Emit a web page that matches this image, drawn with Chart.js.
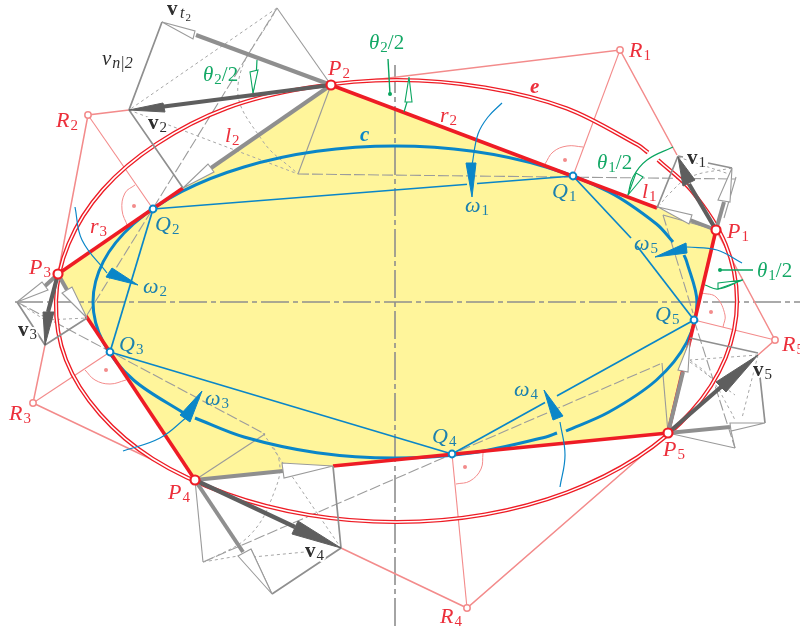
<!DOCTYPE html>
<html><head><meta charset="utf-8">
<script src="https://cdn.jsdelivr.net/npm/chart.js@4"></script>
<style>html,body{margin:0;padding:0;background:#fff}canvas{display:block}</style>
</head><body><canvas id="c" width="800" height="630"></canvas>
<script>
// ---- values (x, y in picture units) ----
const P1=[716,230],P2=[331,85],P3=[58,274],P4=[195,480],P5=[668,433];
const Q1=[573,176],Q2=[153,209],Q3=[110,352],Q4=[452,454],Q5=[694,320];
const R1=[620,50],R2=[88,115],R3=[33,403],R4=[467,608],R5=[775,340];
const polygonP=[P1,P2,P3,P4,P5,P1];
const axisH=[[15,302],[800,302]];
const axisV=[[395,65],[395,628]];
const ellipseA=[[658,160],[691.4,190.5],[725.4,243.8],[737,301],[725.4,358.2],[691.4,411.5],[637.4,457.3],[567,492.4],[485,514.5],[397,522],[309,515],[227,494],[153,459],[100,414],[66,360],[56,301],[68.6,243.8],[102.6,190],[156.6,144],[227,108],[309,87.5],[397,80],[485,87.5],[567,108.5],[637.4,144.7],[648,152.5]];
const curveC1=[[684,255],[686.7,261.6],[697,302],[686.7,342.4],[656.5,380],[608.5,412.3],[566,431]];
const curveC2=[[557,433],[546,437],[473,452.7],[395,458],[316.8,452.7],[244,437],[195,418]];
const curveC3=[[186,414.5],[133.5,380],[103.3,342.4],[93,302],[103.3,261.6],[133.5,224],[181.5,191.7],[244,167],[316.8,151.3],[395,146],[473,151.3],[546,167],[608.5,191.7],[656.5,224],[673,242]];
const chordsQ=[[Q1,Q2],[Q2,Q3],[Q3,Q4],[Q4,Q5]];
const chordQ5a=[Q5,[637,246]],chordQ5b=[[631,238],Q1];
const redEdges=[[P2,[657,208]],[P3,[183,188]],[[86,316],P4],[[333,466],P5],[P5,P1]];
const crossingNotches=[[[467,184.3],[477,183.5]],[[545,402.5],[557,396]]];
const pinkFine=[[R1,Q1],[R2,Q2],[R3,Q3],[R4,Q4],[R5,Q5]];
const pinkOuter=[[P2,R1,[677,155]],[[129,110],R2,P3],[[45,345],R3,P4],[[341,548],R4,P5],[[758,355],R5,P1]];
const rightArcs=[
 [[545,164],[553,152],[567,146],[583,147]],
 [[135,185],[125,193],[122,210],[128,227]],
 [[85,370],[95,380],[110,384],[126,380]],
 [[483,453],[481,469],[470,481],[456,484]],
 [[702,293],[716,297],[725,315],[723,327]]];
const rightDots=[[565,160],[134,206],[106,370],[465,467],[711,312]];
// velocity figures
const thickGray=[[P2,[196,35]],[P2,[211,168]],[P1,[690,220]],[P1,[724,202]],[P3,[45,286]],[P3,[67,290]],[P4,[283,471]],[P4,[243,552]],[P5,[683,372]],[P5,[730,427]]];
const whiteHeads=[
 [[162,22],[195,31],[193,39]],[[183,188],[208,164],[214,172]],
 [[658,207],[692,215],[689,224]],[[732,168],[718,200],[730,202]],
 [[17,302],[42,282],[48,290]],[[87,318],[62,293],[72,287]],
 [[333,466],[282,463],[284,478]],[[272,594],[238,556],[251,549]],
 [[690,340],[678,370],[688,372]],[[765,423],[730,423],[731,431]]];
const darkShafts=[[P2,[160,107]],[P1,[689,184]],[P3,[48,312]],[P4,[295,527]],[P5,[721,387]]];
const darkHeads=[
 [[129,110],[163,103],[165,112]],[[678,157],[695,180],[683,186]],
 [[45,345],[43,312],[54,312]],[[341,548],[298,521],[292,534]],
 [[758,355],[716,382],[726,392]]];
const grayBox=[
 [[162,22],[129,110],[183,188]],[[678,156],[657,208]],[[678,156],[683,157]],[[708,163],[732,168]],
 [[17,302],[45,345],[87,318]],[[333,466],[341,548],[272,594]],
 [[690,338],[758,353]],[[760,377],[765,423]]];
const grayThin=[
 [P2,[277,8]],[[298,174],P2],[P4,[265,434]],[P4,[203,562]],[[272,594],[251,549]],
 [P5,[662,363]],[P5,[735,448]],[[735,448],[731,431]],[[736,177],[724,218]],[[663,215],P1]];
const dashLong=[
 [[277,8],[87,315]],[[298,174],[735,179]],[[17,302],[265,434]],[[203,562],[660,364]],
 [[663,215],[693,313]],[Q5,[735,448]]];
const dashShort=[
 [[277,8],[129,110]],[[129,110],[298,174]],[[17,302],[45,320]],[[45,320],[87,318]],
 [[272,447],[341,548]],[[203,562],[238,556]],[[253,557],[305,552]],[[758,355],[690,360]],
 [[758,355],[742,418]],[[690,362],[735,395]],[[678,157],[732,175]]];
const dashCurves=[
 [[277,8],[238,85],[262,140],[298,174]],
 [[263,433],[279,460],[275,490],[250,535],[205,562]],
 [[732,168],[690,177],[668,195],[660,205]],
 [[690,360],[710,377],[730,410],[735,420]]];
// rotation arcs
const omegaArcs=[
 [[502,103],[488,117],[478,134],[472,165]],
 [[75,207],[82,240],[107,273]],
 [[123,451],[160,438],[187,417]],
 [[560,487],[565,455],[560,422]],
 [[742,263],[717,250],[687,247]]];
const omegaHeads=[
 [[472,197],[466,163],[476,163]],
 [[138,285],[112,268],[106,277]],
 [[202,391],[180,415],[190,422]],
 [[544,390],[563,416],[553,420]],
 [[655,257],[686,243],[687,253]]];
// half-angle marks
const thetaLines=[[[388,59],[390,94]],[[720,270],[753,270]]];
const thetaDots=[[390,94],[720,270]];
const thetaArcs=[
 [[257,60],[256,75],[253,93]],
 [[404,112],[407,102]],
 [[673,147],[647,160],[633,177],[628,195]],
 [[705,285],[718,289],[742,280]]];
const thetaHeads=[
 [[253,93],[250,72],[258,70]],
 [[409,77],[405,102],[412,102]],
 [[628,195],[636,173],[643,177]],
 [[743,280],[718,283],[718,289]]];
// labels: base, subscript, x, y
const redLabels=[["P","1",727,238],["P","2",328,75],["P","3",29,274],["P","4",168,499],["P","5",663,456],
 ["R","1",629,57],["R","2",56,127],["R","3",9,420],["R","4",440,623],["R","5",782,351],
 ["r","2",440,122],["r","3",90,233],["l","1",642,198],["l","2",225,142]];
const blueLabels=[["Q","1",552,198],["Q","2",155,231],["Q","3",119,351],["Q","4",432,443],["Q","5",655,321],
 ["ω","1",465,212],["ω","2",143,293],["ω","3",205,405],["ω","4",514,396],["ω","5",634,250]];
const greenLabels=[["θ","2/2",203,81],["θ","2/2",369,49],["θ","1/2",597,169],["θ","1/2",757,277]];
const boldLabels=[["v","1",687,164],["v","2",148,129],["v","3",18,336],["v","4",305,557],["v","5",753,376]];

const RED='#ee1c25',PINK='#f38b8b',BLUE='#0a86c8',GREEN='#0aa560',YEL='#fff59b',GT='#9a9a9a',GM='#8f8f8f',DK='#5e5e5e';
const datasets=[];
const xy=p=>({x:p[0],y:p[1]});
function line(pts,color,w,dash,tension){datasets.push({data:pts.map(xy),showLine:true,borderColor:color,borderWidth:w,borderDash:dash||[],tension:tension||0,pointRadius:0,fill:false,borderCapStyle:'butt',borderJoinStyle:'miter'});}
function poly(pts,fill,stroke,w){datasets.push({data:[...pts,pts[0]].map(xy),showLine:true,borderColor:stroke,borderWidth:w,tension:0,pointRadius:0,fill:'shape',backgroundColor:fill,borderJoinStyle:'miter'});}
function dots(pts,fill,stroke,bw,r){datasets.push({data:pts.map(xy),showLine:false,pointRadius:r,pointBackgroundColor:fill,pointBorderColor:stroke,pointBorderWidth:bw});}

poly(polygonP,YEL,YEL,0);
line(axisH,'#8e8e8e',1.6,[28,4,5,4]);
line(axisV,'#8e8e8e',1.6,[28,4,5,4]);
pinkFine.forEach(s=>line(s,PINK,1.1));
pinkOuter.forEach(s=>line(s,PINK,1.5));
rightArcs.forEach(s=>line(s,PINK,1,[],0.4));
dots(rightDots,PINK,PINK,0,2);
dashLong.forEach(s=>line(s,'#9c9c9c',1.1,[11,3]));
dashShort.forEach(s=>line(s,'#a6a6a6',1,[3,3]));
dashCurves.forEach(s=>line(s,'#a6a6a6',1,[3,3],0.4));
grayThin.forEach(s=>line(s,GT,1.1));
line(ellipseA,RED,4.2,[],0.33);
line(ellipseA,'#ffffff',1.5,[],0.33);
[curveC1,curveC2,curveC3].forEach(s=>line(s,BLUE,3,[],0.33));
chordsQ.forEach(s=>line(s,BLUE,1.7));
line(chordQ5a,BLUE,1.7);line(chordQ5b,BLUE,1.7);
redEdges.forEach(s=>line(s,RED,3.6));
crossingNotches.forEach(s=>line(s,YEL,4.4));
grayBox.forEach(s=>line(s,GM,1.7));
thickGray.forEach(s=>line(s,GM,4));
whiteHeads.forEach(s=>poly(s,'#ffffff',GT,1.1));
darkShafts.forEach(s=>line(s,DK,4.2));
darkHeads.forEach(s=>poly(s,DK,DK,1));
omegaArcs.forEach(s=>line(s,BLUE,1.2,[],0.4));
omegaHeads.forEach(s=>poly(s,BLUE,BLUE,1));
thetaLines.forEach(s=>line(s,GREEN,1.4));
dots(thetaDots,GREEN,GREEN,0,2);
thetaArcs.forEach(s=>line(s,GREEN,1.2,[],0.4));
thetaHeads.forEach(s=>poly(s,'#ffffff',GREEN,1.1));
dots([P1,P2,P3,P4,P5],'#ffffff',RED,2.2,4.5);
dots([Q1,Q2,Q3,Q4,Q5],'#ffffff',BLUE,2,3.4);
dots([R1,R2,R3,R4,R5],'#ffffff',PINK,1.5,3.2);
datasets.forEach((d,i)=>d.order=datasets.length-i);

const SERIF='"Liberation Serif","DejaVu Serif",serif';
const textPlugin={id:'texts',afterDatasetsDraw(ch){
 const c=ch.ctx,X=ch.scales.x,Y=ch.scales.y;
 const sub=(base,s,x,y,col,bf,sf,halo)=>{
  const px=X.getPixelForValue(x),py=Y.getPixelForValue(y);
  c.save();c.textBaseline='alphabetic';c.fillStyle=col;c.lineJoin='round';
  c.font=bf;const w=c.measureText(base).width;
  if(halo){c.strokeStyle='#fff';c.lineWidth=4;c.strokeText(base,px,py);}
  c.fillText(base,px,py);
  c.font=sf;
  if(halo){c.strokeStyle='#fff';c.lineWidth=4;c.strokeText(s,px+w+1,py+3);}
  c.fillText(s,px+w+1,py+3);c.restore();};
 redLabels.forEach(l=>sub(l[0],l[1],l[2],l[3],'#ec2f3b','italic 22px '+SERIF,'15px '+SERIF));
 blueLabels.forEach(l=>sub(l[0],l[1],l[2],l[3],'#1c80ae','italic 22px '+SERIF,'15px '+SERIF));
 greenLabels.forEach(l=>{
  const px=X.getPixelForValue(l[2]),py=Y.getPixelForValue(l[3]);
  c.save();c.fillStyle='#14a866';c.font='italic 21px '+SERIF;c.fillText('θ',px,py);
  const w=c.measureText('θ').width;c.font='15px '+SERIF;c.fillText(l[1][0],px+w+1,py+3);
  const w2=c.measureText(l[1][0]).width;c.font='21px '+SERIF;c.fillText('/2',px+w+w2+1,py);c.restore();});
 boldLabels.forEach(l=>sub(l[0],l[1],l[2],l[3],'#2e2e2e','bold 21px '+SERIF,'15px '+SERIF,true));
 // v_t2 and v_n|2
 sub('v','',167,15,'#2e2e2e','bold 21px '+SERIF,'15px '+SERIF);
 sub('t','2',180,18,'#2e2e2e','italic 16px '+SERIF,'11px '+SERIF);
 sub('v','n|2',102,65,'#2e2e2e','italic 21px '+SERIF,'italic 16px '+SERIF);
 sub('e','',530,93,'#ec2f3b','bold italic 21px '+SERIF,'15px '+SERIF);
 sub('c','',360,141,BLUE,'bold italic 21px '+SERIF,'15px '+SERIF);
}};

new Chart(document.getElementById('c'),{type:'scatter',data:{datasets},plugins:[textPlugin],options:{
 responsive:false,animation:false,devicePixelRatio:1,
 layout:{padding:0,autoPadding:false},
 plugins:{legend:{display:false},tooltip:{enabled:false},title:{display:false}},
 scales:{
  x:{type:'linear',min:0,max:800,display:false},
  y:{type:'linear',min:0,max:630,reverse:true,display:false}}
}});
</script></body></html>
